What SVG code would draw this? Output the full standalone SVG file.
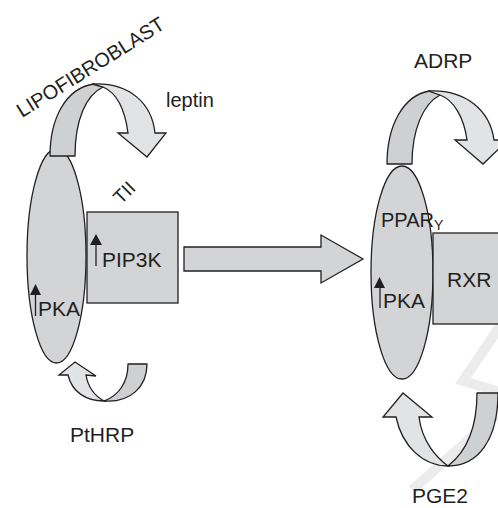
<svg xmlns="http://www.w3.org/2000/svg" width="498" height="508" viewBox="0 0 498 508">
<style>
.sh{fill:#d3d4d6;stroke:#231f20;stroke-width:1.3}
.dk{fill:#cfd0d2;stroke:#231f20;stroke-width:1.3;stroke-linejoin:round}
.lt{fill:#e2e3e4;stroke:#231f20;stroke-width:1.3;stroke-linejoin:miter}
.t{font-family:"Liberation Sans",Arial,sans-serif;fill:#231f20;font-size:21px}
.wm{fill:none;stroke:#ececec;stroke-width:10}
</style>
<g id="watermark">
<path class="wm" d="M500,326 L463,381 L500,392"/>
<path class="wm" d="M500,412 L412,490"/>
</g>
<g id="lipofibroblast-cell">
<ellipse class="sh" cx="56.5" cy="256" rx="29.5" ry="107"/>
<path d="M35.5,295 V316" stroke="#231f20" stroke-width="1.3"/>
<path d="M30,295 L41,295 L35.5,284 Z" fill="#231f20"/>
<text class="t" x="38" y="316">PKA</text>
</g>
<g id="pip3k">
<rect class="sh" x="87" y="212" width="91" height="91"/>
<path d="M96,245 V266" stroke="#231f20" stroke-width="1.3"/>
<path d="M90,245 L102,245 L96,234 Z" fill="#231f20"/>
<text class="t" x="102" y="267">PIP3K</text>
</g>
<g id="tii">
<text class="t" transform="translate(121,205) rotate(-45)" style="font-size:19px">TII</text>
</g>
<g id="title">
<text class="t" transform="translate(22,118) rotate(-32)" style="font-size:20px">LIPOFIBROBLAST</text>
</g>
<g id="leptin">
<path class="dk" d="M50,156 C50,118 66,88 94,84 L103,87 C86,95 75,120 75,156 Z"/>
<path class="lt" d="M92,84 C130,82 152,104 155,133 L166,133 L147,157 L118,133 L128,133 C125,110 117,93 103,87 Z"/>
<text class="t" x="166" y="107" style="font-size:20px">leptin</text>
</g>
<g id="pthrp">
<path class="dk" d="M104,401 C130,403 147,387 147,364 L128,364 C128,383 118,396 104,401 Z"/>
<path class="lt" d="M68,375 C72,392 86,401 104,401 C95,396 88,387 86,375 L96,376 L75,362 L59,375 Z"/>
<text class="t" x="70" y="442">PtHRP</text>
</g>
<g id="adipocyte-cell">
<ellipse class="sh" cx="402" cy="272.5" rx="31" ry="106.5"/>
<text class="t" x="381" y="227" style="font-size:20px">PPAR<tspan dy="3" style="font-size:14px">Y</tspan></text>
<path d="M380,287 V308" stroke="#231f20" stroke-width="1.3"/>
<path d="M374,288 L385,288 L379.5,277 Z" fill="#231f20"/>
<text class="t" x="383" y="308">PKA</text>
</g>
<g id="rxr">
<rect class="sh" x="433" y="233" width="91" height="91"/>
<text class="t" x="447" y="287">RXR</text>
</g>
<g id="adrp">
<path class="dk" d="M387,164 C387,126 403,95 430,91 L440,95 C423,104 412,130 412,164 Z"/>
<path class="lt" d="M428,91 C465,89 490,110 494,140 L508,140 L483,164 L455,140 L467,140 C464,118 454,100 440,95 Z"/>
<text class="t" x="414" y="68">ADRP</text>
</g>
<g id="pge2">
<path class="dk" d="M448,466 C478,466 498,440 498,393 L477,393 C477,428 466,452 448,466 Z"/>
<path class="lt" d="M396,417 C402,446 423,466 448,466 C437,458 422,442 419,417 L432,417 L403,393 L383,417 Z"/>
<text class="t" x="412" y="503">PGE2</text>
</g>
<g id="connectors">
<path class="sh" d="M184,247 L321,247 L321,235 L363,259 L321,283 L321,271 L184,271 Z" stroke-linejoin="miter"/>
</g>
</svg>
